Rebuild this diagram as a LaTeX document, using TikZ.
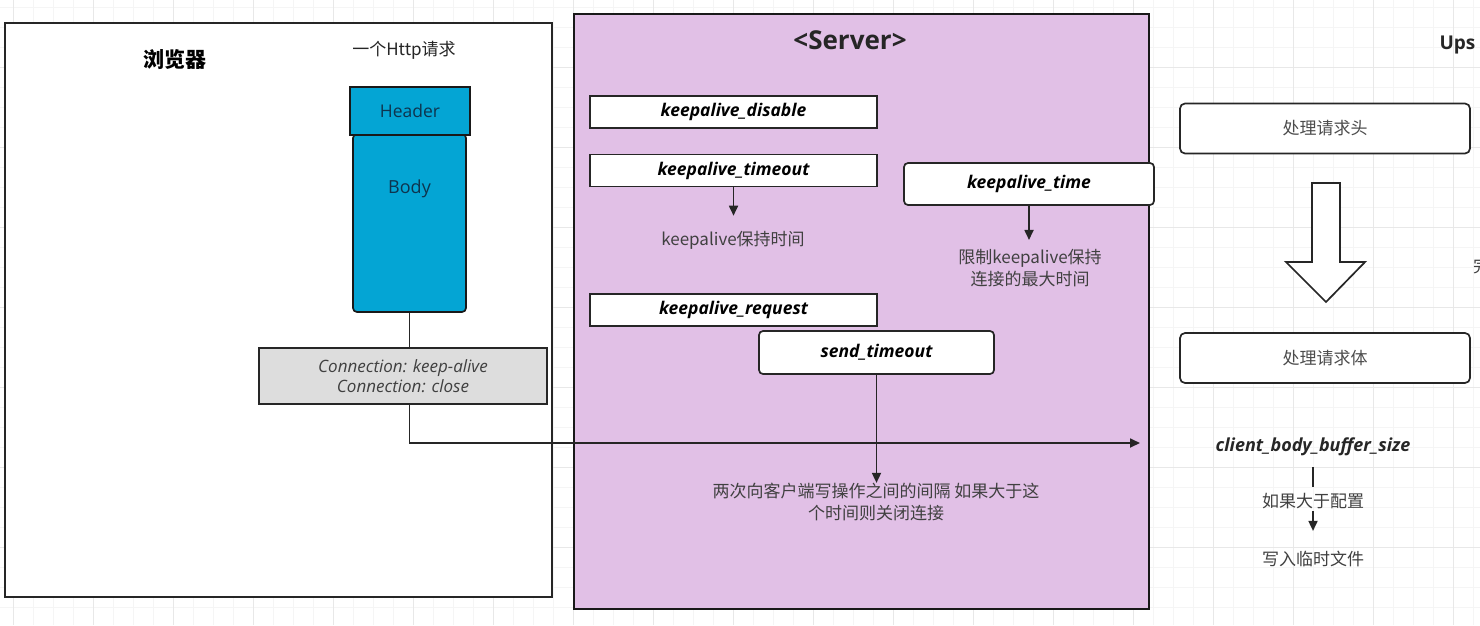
\documentclass[tikz,border=0pt]{standalone}
\usepackage{fontspec}
\setmainfont{Open Sans}
\newfontfamily\cjk{Noto Sans CJK SC}
\usetikzlibrary{arrows.meta}
\definecolor{srvfill}{RGB}{225,192,230}
\definecolor{reqblue}{RGB}{4,165,212}
\definecolor{reqtext}{RGB}{14,52,78}
\definecolor{connfill}{RGB}{221,221,221}
\tikzset{
  frame/.style={draw=black!85, line width=2pt},
  keybox/.style={draw=black!85, line width=1.7pt, fill=white, minimum width=287pt, minimum height=32pt, inner sep=0pt, font=\fontsize{17.5}{20}\selectfont\bfseries\itshape},
  roundbox/.style={keybox, rounded corners=4pt},
  procbox/.style={draw=black!85, line width=1.7pt, fill=white, rounded corners=5pt, minimum width=290pt, minimum height=50pt, text=black!70, font=\cjk\fontsize{17}{20}\selectfont},
  note/.style={inner sep=0pt, align=center, text=black!75, font=\cjk\fontsize{17}{22}\selectfont},
  link/.style={draw=black!85, line width=1.7pt},
  arr/.style={link, -{Triangle[length=10pt,width=9pt]}},
  gridminor/.style={draw=black!4, line width=0.6pt},
  gridmajor/.style={draw=black!9, line width=0.8pt}
}
\begin{document}
\begin{tikzpicture}[x=1pt,y=-1pt]
\useasboundingbox (0,0) rectangle (1480,625);
\clip (0,0) rectangle (1480,625);
\fill[white] (0,0) rectangle (1480,625);

\foreach \gx in {13,33,...,1480}
\draw[gridminor] (\gx,0) -- (\gx,625);
\foreach \gy in {7,27,...,625}
\draw[gridminor] (0,\gy) -- (1480,\gy);
\foreach \gx in {13,93,...,1480}
\draw[gridmajor] (\gx,0) -- (\gx,625);
\foreach \gy in {67,147,...,625}
\draw[gridmajor] (0,\gy) -- (1480,\gy);

\node[frame, fill=white, minimum width=547pt, minimum height=574pt] (browser) at (278.5,310) {};
\node[frame, draw=black!90, line width=2.4pt, fill=srvfill, minimum width=575pt, minimum height=595pt] (server) at (861.5,311.5) {};

\node[font=\cjk\bfseries\fontsize{21}{24}\selectfont] (browsertitle) at (175,60) {浏览器};
\node[note, text=black!85] (reqtitle) at (404,50) {一个Http请求};
\node[font=\bfseries\fontsize{26}{30}\selectfont, text=black!85] (servertitle) at (850,40) {<Server>};

\node[draw=black!90, line width=1.7pt, fill=reqblue, rounded corners=4pt, minimum width=113pt, minimum height=178pt,
  label={[anchor=center, yshift=-56pt, text=reqtext, font=\fontsize{18}{21}\selectfont]north:Body}] (body) at (409.5,223) {};
\node[draw=black!90, line width=1.7pt, fill=reqblue, minimum width=120pt, minimum height=48pt, text=reqtext, font=\fontsize{17.5}{20}\selectfont] (header) at (410,111) {Header};
\node[draw=black!85, line width=1.7pt, fill=connfill, minimum width=288pt, minimum height=56pt, inner sep=0pt, align=center, text=black!75, font=\fontsize{17}{20}\selectfont\itshape] (conn) at (403,376) {Connection: keep-alive\\Connection: close};
\coordinate (srvend) at (1140,443);

\node[keybox] (kdisable) at (733.5,112) {keepalive\_disable};
\node[keybox] (ktimeout) at (733.5,170.5) {keepalive\_timeout};
\node[note] (ktimeoutnote) at (733,240) {keepalive保持时间};
\node[roundbox, minimum width=250pt, minimum height=42pt] (ktime) at (1029,184) {keepalive\_time};
\node[note] (ktimenote) at (1030,268) {限制keepalive保持\\连接的最大时间};
\node[keybox] (krequest) at (733.5,310) {keepalive\_request};
\node[roundbox, minimum width=235pt, minimum height=43pt] (sendto) at (876.5,352.5) {send\_timeout};
\node[note] (sendnote) at (876,502) {两次向客户端写操作之间的间隔 如果大于这\\个时间则关闭连接};

\node[procbox] (prochead) at (1325,128.5) {处理请求头};
\node[procbox] (procbody) at (1325,358) {处理请求体};
\node[inner sep=0pt, font=\fontsize{18}{21}\selectfont\bfseries\itshape, text=black!85] (cbbsize) at (1313,447) {client\_body\_buffer\_size};
\node[note] (cbbif) at (1313,501) {如果大于配置};
\node[note] (cbbtmp) at (1313,559) {写入临时文件};

\node[anchor=west, font=\bfseries\fontsize{19}{22}\selectfont, text=black!85] (upstitle) at (1436,45) {Ups};
\node[anchor=west, note] (cutnote) at (1473,266) {完};

\draw[link] (body) -- (body |- conn.north);
\draw[arr] (conn.south -| body) |- (srvend);
\draw[arr, shorten >=15pt] (ktimeout) -- (ktimeout |- ktimeoutnote.north);
\draw[arr, shorten >=9pt] (ktime) -- (ktime |- ktimenote.north);
\draw[arr] (sendto) -- (sendto |- sendnote.north);
\draw[link, shorten <=11pt, shorten >=6pt] (cbbsize) -- (cbbif);
\draw[arr, shorten <=2pt, shorten >=20pt] (cbbif) -- (cbbtmp);

\draw[link, fill=white] (1312,183) -- (1340,183) -- (1340,262) -- (1365,262) -- (1326,302) -- (1286,262) -- (1312,262) -- cycle;
\end{tikzpicture}
\end{document}
